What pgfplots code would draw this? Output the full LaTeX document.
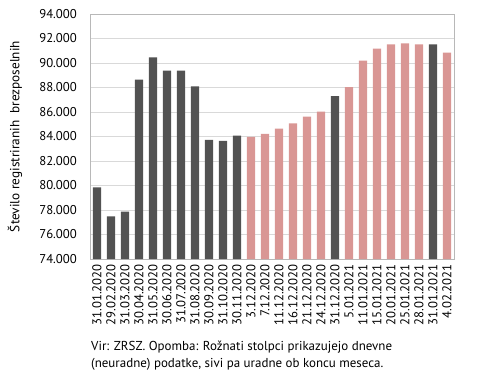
\documentclass[border=0pt]{standalone}
\usepackage{pgfplots}
\pgfplotsset{compat=1.18}
\usepackage{fontspec}
\setmainfont{PT Sans}
\definecolor{darkbar}{RGB}{82,82,82}
\definecolor{pinkbar}{RGB}{217,150,148}
\definecolor{gridc}{RGB}{217,217,217}
\begin{document}
\begin{tikzpicture}[x=1bp,y=1bp]
\path[use as bounding box] (0,0) rectangle (477,386);
\begin{axis}[
  at={(90bp,127bp)}, anchor=south west,
  scale only axis, width=364bp, height=245bp,
  xmin=-0.5, xmax=25.5, ymin=74000, ymax=94000,
  scaled y ticks=false,
  ytick={74000,76000,...,94000},
  yticklabels={74.000,76.000,78.000,80.000,82.000,84.000,86.000,88.000,90.000,92.000,94.000},
  xtick={0,...,25},
  xticklabels={31.01.2020,29.02.2020,31.03.2020,30.04.2020,31.05.2020,30.06.2020,31.07.2020,31.08.2020,30.09.2020,31.10.2020,30.11.2020,3.12.2020,7.12.2020,11.12.2020,16.12.2020,21.12.2020,24.12.2020,31.12.2020,5.01.2021,11.01.2021,15.01.2021,20.01.2021,25.01.2021,28.01.2021,31.01.2021,4.02.2021},
  xticklabel style={rotate=90, anchor=east, font=\fontsize{12.8}{12.8}\selectfont, inner xsep=5bp, inner ysep=0bp},
  yticklabel style={font=\fontsize{12.8}{12.8}\selectfont, inner sep=0bp, anchor=east, xshift=-13bp},
  major tick length=0pt,
  ymajorgrids, grid style={gridc, line width=0.8bp},
  axis line style={gridc!85!black, line width=0.8bp},
  ylabel={Število registriranih\ \ brezposelnih},
  ylabel style={font=\fontsize{13.3}{13.3}\selectfont},
  every axis y label/.append style={at={(axis description cs:-0.206,0.5)}, anchor=center},
  ybar, bar width=8.4bp,
]
\addplot[draw=none, fill=darkbar, bar shift=0pt] coordinates {
(0,79840) (1,77490) (2,77870) (3,88650) (4,90460) (5,89370) (6,89370) (7,88100) (8,83730) (9,83650) (10,84080) (17,87300) (24,91520)};
\addplot[draw=none, fill=pinkbar, bar shift=0pt] coordinates {
(11,83970) (12,84220) (13,84650) (14,85070) (15,85620) (16,86030) (18,88030) (19,90190) (20,91170) (21,91520) (22,91600) (23,91520) (25,90840)};
\end{axis}
\node[anchor=north west, align=left, inner sep=0pt, font=\fontsize{13}{17}\selectfont] at (91,386-341) {Vir: ZRSZ. Opomba: Rožnati stolpci prikazujejo dnevne\\(neuradne) podatke, sivi pa uradne ob koncu meseca.};
\end{tikzpicture}
\end{document}
